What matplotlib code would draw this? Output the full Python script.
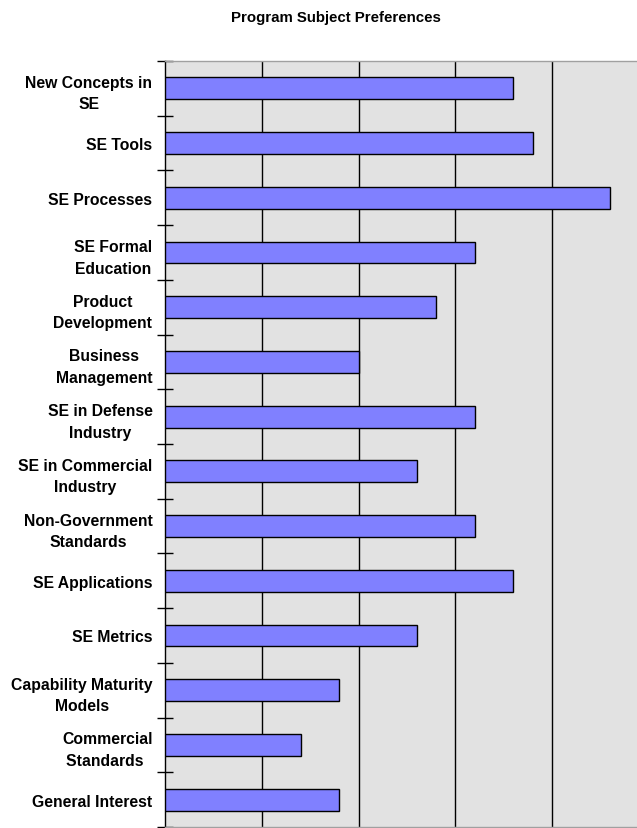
import numpy as np
import matplotlib.pyplot as plt

plt.rcParams['font.family'] = ['Liberation Sans', 'DejaVu Sans']

# survey categories, top to bottom
subjects = [
    "New Concepts in\nSE",
    "SE Tools",
    "SE Processes",
    "SE Formal\nEducation",
    "Product\nDevelopment",
    "Business\nManagement",
    "SE in Defense\nIndustry",
    "SE in Commercial\nIndustry",
    "Non-Government\nStandards",
    "SE Applications",
    "SE Metrics",
    "Capability Maturity\nModels",
    "Commercial\nStandards ",
    "General Interest",
]
votes = [18, 19, 23, 16, 14, 10, 16, 13, 16, 18, 13, 9, 7, 9]
grid_x = [5, 10, 15, 20]


def main():
    fig = plt.figure(figsize=(6.37, 8.29), dpi=100)
    # plot area runs off the right edge like the original screenshot
    ax = fig.add_axes([165 / 637, 1 / 829, 484 / 637, 766 / 829])
    ax.set_facecolor("#e2e2e2")

    n = len(subjects)
    y = np.arange(n)
    ax.barh(y, votes, height=0.4, color="#8080ff", edgecolor="black",
            linewidth=1.0, zorder=3)

    for gx in grid_x:
        ax.axvline(gx, color="black", linewidth=1.0, zorder=2)

    ax.set_xlim(0, 25)
    ax.set_ylim(n - 0.5, -0.5)

    # category boundary ticks
    ax.set_yticks(np.arange(n + 1) - 0.5)
    ax.set_yticklabels([])
    ax.tick_params(axis="y", which="major", length=12, direction="inout",
                   width=1.0, color="black")
    ax.set_yticks(y, minor=True)
    ax.set_yticklabels(subjects, minor=True, fontsize=11.3, fontweight="bold",
                       multialignment="center", linespacing=1.55)
    ax.tick_params(axis="y", which="minor", length=0, pad=9)
    ax.set_xticks([])

    ax.spines["left"].set_color("black")
    ax.spines["left"].set_linewidth(1.0)
    for s in ["top", "bottom", "right"]:
        ax.spines[s].set_color("#a0a0a0")
        ax.spines[s].set_linewidth(1.0)

    fig.text(336 / 637, 1 - 18 / 829, "Program Subject Preferences",
             ha="center", va="center", fontsize=10.8, fontweight="bold")

    fig.savefig("out.png", dpi=100)


if __name__ == '__main__':
    main()
